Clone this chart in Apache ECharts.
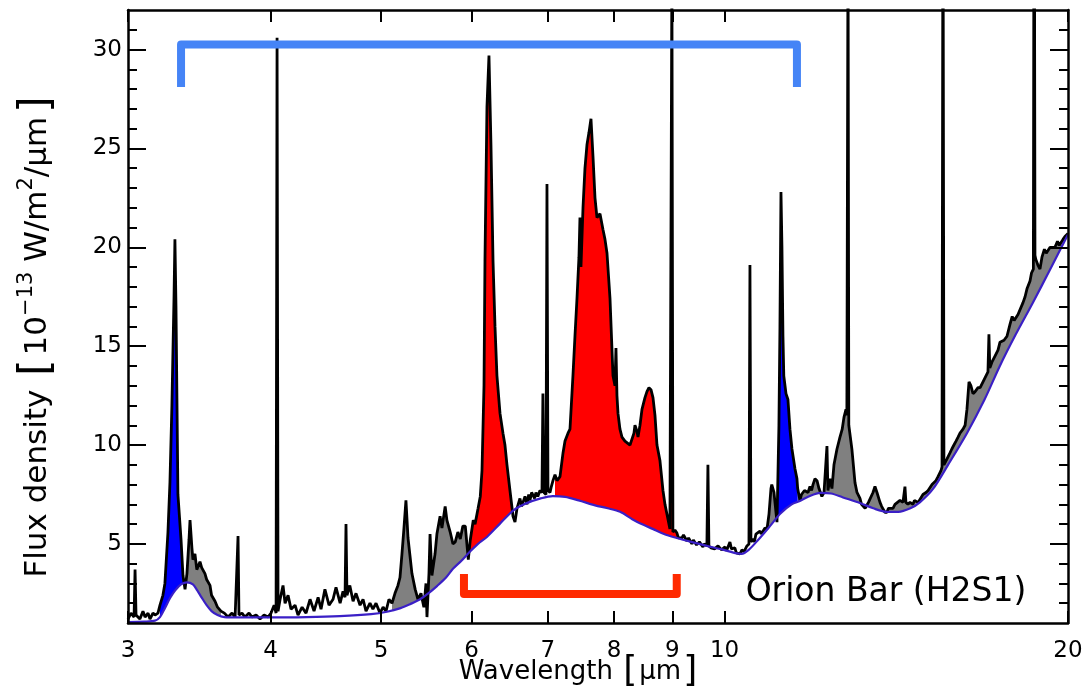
<!DOCTYPE html>
<html>
<head>
<meta charset="utf-8">
<script src="https://cdn.jsdelivr.net/npm/echarts@6/dist/echarts.min.js"></script>
<style>html,body{margin:0;padding:0;background:#fff}#chart{width:1084px;height:694px}</style>
</head>
<body>
<div id="chart"></div>
<script>
// ---------- data ----------
const wavelength = [
3.000,3.018,3.037,3.043,3.049,3.073,3.092,3.105,3.124,3.136,3.155,3.168,3.187,3.200,3.219,3.232,3.252,3.265,3.278,3.292,
3.298,3.305,3.318,3.339,3.352,3.366,3.379,3.393,3.400,3.413,3.420,3.434,3.447,3.469,3.481,3.504,3.516,3.540,3.551,3.576,
3.594,3.619,3.644,3.671,3.701,3.724,3.739,3.746,3.753,3.776,3.799,3.830,3.853,3.885,3.916,3.948,3.980,4.004,4.029,4.045,
4.053,4.061,4.078,4.102,4.119,4.144,4.169,4.203,4.228,4.263,4.297,4.332,4.367,4.403,4.429,4.464,4.501,4.538,4.565,4.603,
4.630,4.649,4.658,4.667,4.694,4.725,4.753,4.792,4.821,4.850,4.889,4.918,4.949,4.989,5.020,5.050,5.080,5.111,5.142,5.173,
5.194,5.215,5.236,5.257,5.279,5.300,5.321,5.356,5.386,5.419,5.451,5.474,5.485,5.507,5.519,5.540,5.575,5.596,5.632,5.653,
5.690,5.710,5.748,5.780,5.807,5.838,5.866,5.897,5.926,5.962,5.986,6.022,6.044,6.081,6.108,6.129,6.154,6.166,6.191,6.216,
6.241,6.267,6.292,6.317,6.356,6.394,6.420,6.446,6.485,6.525,6.551,6.578,6.617,6.640,6.658,6.685,6.712,6.735,6.752,6.775,
6.793,6.815,6.834,6.860,6.890,6.918,6.931,6.945,6.974,6.988,7.002,7.031,7.050,7.073,7.102,7.131,7.174,7.218,7.247,7.291,
7.320,7.364,7.394,7.424,7.454,7.469,7.484,7.515,7.545,7.576,7.606,7.637,7.668,7.699,7.730,7.777,7.824,7.856,7.888,7.936,
7.984,8.016,8.032,8.048,8.065,8.097,8.130,8.179,8.212,8.263,8.296,8.329,8.346,8.380,8.397,8.431,8.465,8.516,8.550,8.585,
8.620,8.655,8.690,8.725,8.778,8.831,8.867,8.903,8.956,8.974,8.992,9.010,9.047,9.084,9.110,9.139,9.175,9.205,9.232,9.269,
9.300,9.326,9.362,9.390,9.420,9.450,9.477,9.505,9.535,9.573,9.600,9.631,9.650,9.670,9.689,9.729,9.768,9.800,9.828,9.870,
9.907,9.940,9.967,10.010,10.040,10.068,10.109,10.140,10.170,10.210,10.240,10.274,10.315,10.357,10.400,10.430,10.462,10.505,10.526,10.547,
10.589,10.620,10.654,10.697,10.740,10.770,10.806,10.850,10.894,10.938,10.982,11.000,11.049,11.071,11.116,11.138,11.160,11.183,11.206,11.228,
11.251,11.270,11.320,11.365,11.411,11.457,11.527,11.573,11.590,11.644,11.680,11.715,11.750,11.786,11.834,11.882,11.920,11.954,12.002,12.051,
12.100,12.170,12.223,12.272,12.296,12.320,12.371,12.420,12.471,12.547,12.623,12.680,12.725,12.777,12.800,12.830,12.850,12.930,13.011,13.064,
13.143,13.185,13.223,13.280,13.330,13.370,13.411,13.493,13.547,13.602,13.685,13.730,13.767,13.820,13.879,13.920,13.963,14.048,14.105,14.162,
14.248,14.334,14.360,14.392,14.420,14.480,14.540,14.627,14.670,14.715,14.780,14.835,14.925,14.970,15.016,15.080,15.138,15.200,15.260,15.320,
15.385,15.477,15.510,15.540,15.570,15.667,15.710,15.761,15.820,15.870,15.954,16.020,16.083,16.181,16.250,16.310,16.378,16.440,16.511,16.580,
16.630,16.678,16.750,16.813,16.915,17.017,17.050,17.080,17.156,17.210,17.260,17.365,17.435,17.500,17.576,17.683,17.790,17.870,17.940,18.008,
18.080,18.153,18.264,18.340,18.411,18.524,18.580,18.650,18.680,18.710,18.740,18.820,18.900,18.976,19.070,19.140,19.207,19.290,19.363,19.480,
19.580,19.650,19.718,19.800,19.878,20.000
];
const flux = [
1.2,1.5,1.3,3.7,1.4,1.2,1.6,1.3,1.5,1.2,1.5,1.4,1.5,1.9,2.4,3.0,5.6,8.1,12.0,17.5,
20.4,17.0,7.5,5.2,3.4,2.7,3.5,5.2,6.2,4.8,4.2,4.5,3.7,4.1,3.8,3.5,3.2,2.9,2.4,2.1,
1.8,1.6,1.5,1.3,1.5,1.3,1.4,5.4,1.4,1.5,1.3,1.5,1.3,1.4,1.2,1.4,1.3,1.5,1.9,1.5,
30.6,1.6,2.2,2.9,2.0,2.4,1.7,1.9,1.4,1.8,1.5,2.2,1.6,2.3,1.7,2.7,1.9,2.2,2.8,2.0,
2.6,2.3,6.0,2.4,2.9,2.1,2.5,1.9,2.2,1.6,2.0,1.7,2.0,1.5,1.8,1.6,2.2,2.0,2.5,2.9,
3.3,4.5,5.8,7.2,5.3,4.4,3.5,2.7,2.2,2.5,1.8,3.0,1.3,3.5,5.5,3.4,4.5,5.5,6.4,5.8,
6.9,6.2,5.6,5.0,5.1,5.6,5.25,5.9,5.9,4.2,5.2,6.2,6.0,6.8,7.4,8.7,13.0,19.3,27.1,29.7,
25.2,19.3,16.0,13.5,11.6,10.6,10.0,9.0,7.7,6.4,6.1,6.8,7.3,6.9,7.1,7.4,7.0,7.5,7.2,7.6,
7.5,7.3,7.6,7.4,7.7,7.6,12.6,7.6,7.5,23.2,7.7,7.6,7.9,8.2,8.5,8.2,8.4,9.6,10.2,10.6,
10.8,13.5,15.5,17.4,19.5,21.5,19.0,22.0,24.0,25.2,25.8,26.5,24.6,22.5,21.5,21.7,20.9,20.4,19.7,17.4,
13.5,13.0,14.9,12.5,11.6,10.8,10.4,10.2,10.1,10.0,10.0,10.6,11.0,10.7,10.4,11.0,11.8,12.4,12.7,12.9,
12.8,12.4,11.5,10.0,9.2,7.7,7.0,6.5,5.75,5.7,34.0,5.6,5.7,5.55,5.3,5.4,5.3,5.45,5.35,5.15,
5.3,5.2,5.0,5.2,5.1,4.95,4.9,5.1,5.0,4.85,5.0,4.95,4.9,9.0,4.9,4.8,4.9,4.75,4.7,4.9,
5.0,4.7,4.8,4.85,4.65,4.6,5.1,4.75,4.7,4.8,4.55,4.5,4.5,4.7,4.6,4.75,4.9,5.0,19.1,5.1,
5.25,5.1,5.5,5.4,5.65,5.5,5.6,5.8,5.75,6.5,7.8,8.0,7.6,7.6,6.1,8.5,11.0,16.0,22.8,20.0,
15.5,13.5,12.6,12.3,10.8,9.8,8.8,8.3,7.8,7.2,7.5,7.4,7.7,7.8,7.6,7.9,7.7,8.0,8.3,8.2,
7.8,7.4,7.6,7.7,9.95,7.7,8.3,7.8,9.0,9.8,10.4,10.8,11.4,11.8,11.5,36.0,11.0,9.8,8.1,7.6,
7.3,7.0,7.1,6.8,6.9,7.1,7.2,7.6,7.9,7.6,7.1,6.9,6.8,6.6,6.6,6.8,6.7,6.8,7.0,6.9,
7.2,7.1,7.0,7.9,7.1,7.0,7.1,7.0,7.2,7.3,7.1,7.2,7.5,7.4,7.6,7.7,7.8,8.0,8.1,8.2,
8.4,8.7,8.9,40.0,9.0,9.3,9.4,9.6,9.8,9.95,10.2,10.4,10.6,10.8,11.0,11.8,13.2,13.0,12.6,12.7,
12.8,12.9,12.9,13.0,13.4,13.7,15.6,13.9,14.2,14.3,14.5,14.8,15.2,15.1,15.3,15.5,16.1,16.5,16.3,16.4,
16.6,16.7,17.2,17.5,17.9,18.3,18.7,18.9,45.0,19.6,19.4,19.1,18.9,19.5,19.9,19.7,19.8,20.0,20.05,20.0,
20.3,20.1,20.2,20.4,20.55,20.7
];
const contWavelength = [
3.000,3.100,3.168,3.200,3.232,3.265,3.300,3.339,3.379,3.420,3.450,3.480,3.516,3.551,3.594,3.644,3.750,4.000,4.300,4.600,
4.900,5.060,5.200,5.300,5.410,5.500,5.600,5.700,5.780,5.880,5.980,6.080,6.190,6.350,6.530,6.700,6.900,7.070,7.250,7.450,
7.700,7.900,8.100,8.300,8.500,8.650,8.850,9.080,9.350,9.650,9.950,10.250,10.350,10.500,10.700,10.960,11.200,11.450,11.640,11.850,
12.130,12.400,12.700,13.140,13.500,13.880,14.200,14.550,14.830,15.230,15.700,16.310,16.900,17.430,18.000,18.630,19.300,20.000
];
const continuum = [
1.05,1.07,1.12,1.3,1.75,2.25,2.65,2.95,3.05,2.95,2.65,2.3,1.9,1.6,1.4,1.3,1.28,1.28,1.3,1.35,
1.45,1.57,1.75,1.95,2.2,2.5,2.88,3.3,3.74,4.15,4.6,5.0,5.35,6.0,6.7,7.05,7.3,7.42,7.38,7.2,
6.95,6.8,6.62,6.25,5.95,5.76,5.5,5.3,5.1,4.9,4.72,4.52,4.5,4.7,5.2,5.9,6.55,7.0,7.17,7.4,
7.58,7.55,7.35,7.07,6.8,6.62,6.62,6.8,7.1,7.78,9.0,10.6,12.3,14.0,15.6,17.2,18.9,20.65
];
// feature bands (wavelength ranges)
const blueBands = [[3.200, 3.366], [11.116, 11.590]];
const redBands  = [[5.962, 6.578], [7.102, 9.084]];
const grayBands = [[3.366, 3.619], [5.111, 5.962], [10.894, 11.116], [11.590, 20.000]];
// bracket annotations [wavelength, flux]
const topBracket = [[3.339, 28.1], [3.339, 30.25], [11.573, 30.25], [11.573, 28.1]];
const lowBracket = [[5.91, 3.48], [5.91, 2.47], [9.08, 2.47], [9.08, 3.48]];
// ticks
const xTickValues = [3, 4, 5, 6, 7, 8, 9, 10, 20];
const yTickValues = [5, 10, 15, 20, 25, 30];
const yMinorTickValues = [2,3,4,6,7,8,9,11,12,13,14,16,17,18,19,21,22,23,24,26,27,28,29,31];
const xMin = 3, xMax = 20, yMin = 1, yMax = 32;

// ---------- chart ----------
const FONT = 'DejaVu Sans';
const fluxPts = wavelength.map((w, i) => [w, flux[i]]);
const contPts = contWavelength.map((w, i) => [w, continuum[i]]);
const lg = v => Math.log10(v);

function bandSeries(ranges, color) {
  return ranges.map(([a, b]) => ({
    type: 'line', xAxisIndex: 0, yAxisIndex: 0,
    data: fluxPts.filter(p => p[0] >= a - 1e-9 && p[0] <= b + 1e-9),
    symbol: 'none', silent: true, z: 1,
    lineStyle: { width: 0 },
    areaStyle: { color: color, opacity: 1, origin: 'start' }
  }));
}

const axisLineStyle = { show: true, onZero: false, lineStyle: { color: '#000', width: 2.5 } };
function xAx(position, labels) {
  return {
    type: 'value', min: lg(xMin), max: lg(xMax), position: position, z: 10,
    axisLine: axisLineStyle,
    axisTick: { show: true, inside: true, length: 12, lineStyle: { color: '#000', width: 2 }, customValues: xTickValues.map(lg) },
    axisLabel: labels ? {
      show: true, customValues: xTickValues.map(lg), margin: 17,
      formatter: v => String(Math.round(Math.pow(10, v))),
      color: '#000', fontSize: 23, fontFamily: FONT
    } : { show: false },
    splitLine: { show: false }
  };
}
function yAx(position, values, len, labels, line) {
  return {
    type: 'value', min: yMin, max: yMax, position: position, z: 10,
    axisLine: line ? axisLineStyle : { show: false },
    axisTick: { show: true, inside: true, length: len, lineStyle: { color: '#000', width: 2 }, customValues: values },
    axisLabel: labels ? { show: true, customValues: values, margin: 6, color: '#000', fontSize: 23, fontFamily: FONT } : { show: false },
    splitLine: { show: false }
  };
}

const option = {
  animation: false,
  backgroundColor: '#fff',
  grid: { left: 128, right: 16, top: 10, bottom: 71, containLabel: false, outerBoundsMode: 'none' },
  xAxis: [
    { type: 'log', logBase: 10, min: xMin, max: xMax, show: false },
    xAx('bottom', true),
    xAx('top', false)
  ],
  yAxis: [
    yAx('left', yTickValues, 18, true, true),
    yAx('left', yMinorTickValues, 9, false, false),
    yAx('right', yTickValues, 18, false, true),
    yAx('right', yMinorTickValues, 9, false, false)
  ],
  series: [
    ...bandSeries(grayBands, '#808080'),
    ...bandSeries(blueBands, '#0000ff'),
    ...bandSeries(redBands, '#ff0000'),
    { // white below the continuum
      type: 'line', xAxisIndex: 0, yAxisIndex: 0, data: contPts, symbol: 'none', silent: true, z: 2,
      smooth: 0.3,
      lineStyle: { width: 0 }, areaStyle: { color: '#ffffff', opacity: 1, origin: 'start' }
    },
    {
      type: 'line', xAxisIndex: 0, yAxisIndex: 0, data: fluxPts, symbol: 'none', silent: true, z: 3,
      lineStyle: { color: '#000', width: 2.8 }
    },
    {
      type: 'line', xAxisIndex: 0, yAxisIndex: 0, data: contPts, symbol: 'none', silent: true, z: 4,
      smooth: 0.3,
      lineStyle: { color: '#3a1fc6', width: 2.2 }
    },
    {
      type: 'line', xAxisIndex: 0, yAxisIndex: 0, data: topBracket, symbol: 'none', silent: true, z: 5,
      lineStyle: { color: '#4584f6', width: 8, cap: 'butt', join: 'round' }
    },
    {
      type: 'line', xAxisIndex: 0, yAxisIndex: 0, data: lowBracket, symbol: 'none', silent: true, z: 5,
      lineStyle: { color: '#ff2a00', width: 8, cap: 'butt', join: 'round' }
    }
  ],
  graphic: [
    {
      type: 'text', x: 38, y: 335, rotation: Math.PI / 2, z: 20,
      style: {
        text: 'Flux density {b|[}10{s|−13} W/m{s|2}/μm{b|]}',
        rich: {
          b: { fontSize: 42, fontFamily: FONT, lineHeight: 44, fill: '#000', padding: [0, 4, 0, 4] },
          s: { fontSize: 21, fontFamily: FONT, verticalAlign: 'top', lineHeight: 25, fill: '#000' }
        },
        fontSize: 31, fontFamily: FONT, fill: '#000',
        align: 'center', verticalAlign: 'middle', textAlign: 'center', textVerticalAlign: 'middle'
      }
    },
    {
      type: 'text', x: 579, y: 672, z: 20,
      style: {
        text: 'Wavelength {b|[}μm{b|]}',
        rich: { b: { fontSize: 36, fontFamily: FONT, lineHeight: 38, fill: '#000', padding: [0, 2, 0, 2] } },
        fontSize: 26, fontFamily: FONT, fill: '#000',
        align: 'center', verticalAlign: 'middle', textAlign: 'center', textVerticalAlign: 'middle'
      }
    },
    {
      type: 'text', x: 886, y: 592, z: 20,
      style: {
        text: 'Orion Bar (H2S1)', fontSize: 33, fontFamily: FONT, fill: '#000',
        align: 'center', verticalAlign: 'middle', textAlign: 'center', textVerticalAlign: 'middle'
      }
    }
  ]
};

const chart = echarts.init(document.getElementById('chart'), null, { renderer: 'canvas' });
chart.setOption(option);
</script>
</body>
</html>
